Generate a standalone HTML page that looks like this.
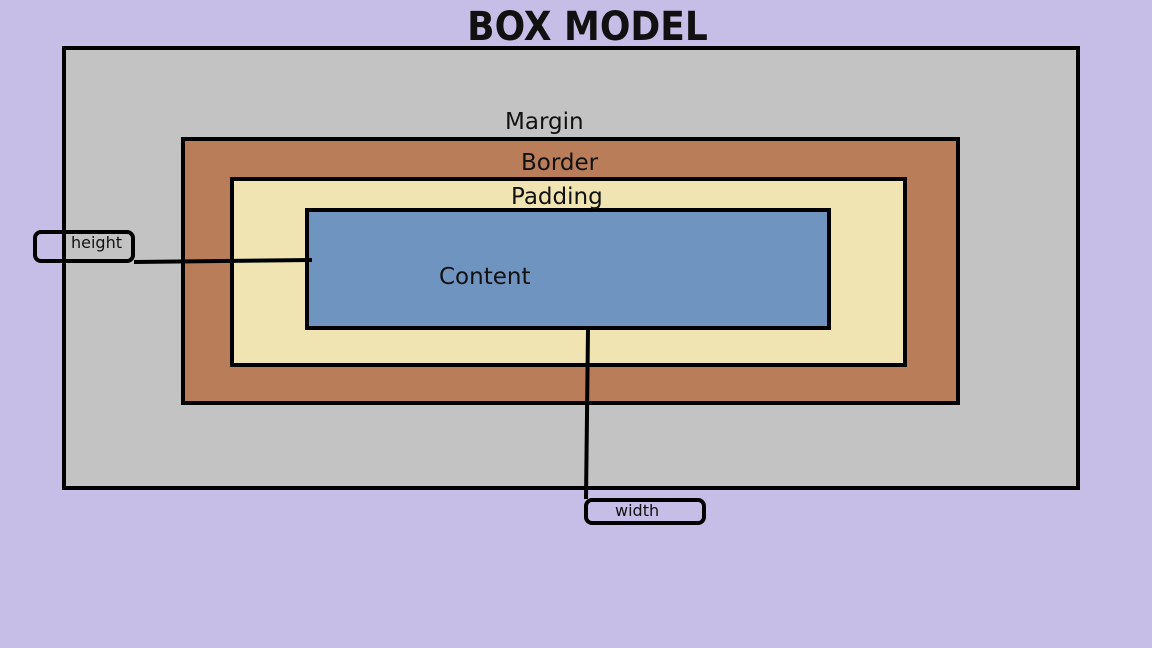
<!DOCTYPE html>
<html><head><meta charset="utf-8"><style>
html,body{margin:0;padding:0}
body{width:1152px;height:648px;background:#C6BEE6;position:relative;overflow:hidden;font-family:"DejaVu Sans","Liberation Sans",sans-serif}
.b{position:absolute;box-sizing:border-box;border:4px solid #000}
.t{position:absolute;color:#111;white-space:nowrap}
</style></head><body>
<div class="t" style="left:0;width:1175px;text-align:center;top:4px;font-size:40px;font-weight:bold;font-family:'DejaVu Sans Condensed','DejaVu Sans',sans-serif">BOX MODEL</div>
<div class="b" style="left:62px;top:46px;width:1018px;height:444px;background:#C3C3C3"></div>
<div class="b" style="left:181px;top:137px;width:779px;height:268px;background:#B97D5A"></div>
<div class="b" style="left:230px;top:177px;width:677px;height:190px;background:#F0E4B2"></div>
<div class="b" style="left:305px;top:208px;width:526px;height:122px;background:#7094C0"></div>
<div class="t" style="left:505px;top:109px;font-size:23px">Margin</div>
<div class="t" style="left:521px;top:150px;font-size:23px">Border</div>
<div class="t" style="left:511px;top:184px;font-size:23px">Padding</div>
<div class="t" style="left:439px;top:264px;font-size:23px">Content</div>
<svg width="1152" height="648" style="position:absolute;left:0;top:0">
<path d="M134 262 L312 260" stroke="#000" stroke-width="4" fill="none"/>
<path d="M588 330 L586 499" stroke="#000" stroke-width="4" fill="none"/>
</svg>
<div class="b" style="left:33px;top:230px;width:102px;height:33px;border-radius:8px"></div>
<div class="t" style="left:71px;top:233px;font-size:16px">height</div>
<div class="b" style="left:584px;top:498px;width:122px;height:27px;border-radius:8px"></div>
<div class="t" style="left:615px;top:501px;font-size:16px">width</div>
</body></html>
